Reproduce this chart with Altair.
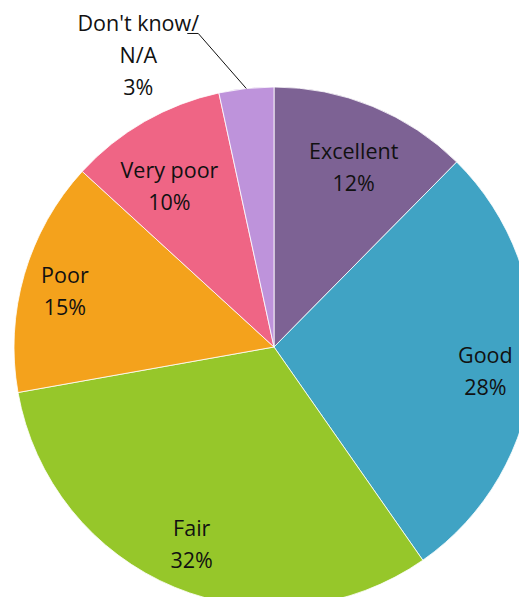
import math
import altair as alt
import pandas as pd

# ---- data ----
categories = ["Excellent", "Good", "Fair", "Poor", "Very poor", "Don't know/\nN/A"]
values = [12.4, 27.9, 31.9, 14.6, 9.8, 3.4]
pct_labels = ["12%", "28%", "32%", "15%", "10%", "3%"]

# ---- style / layout ----
colors = ["#7D6294", "#40A3C4", "#96C72A", "#F4A21C", "#EF6585", "#BE93DB"]
label_radius = [195, 213, 215, 216, 190, 0]
label_angle_shift_deg = [1.8, 2.2, 0.0, -1.7, -3.5, 0.0]
W, H = 511, 589
CX, CY, R = 266, 339, 260
FONT = "Open Sans"
FS = 21.5
LH = 32
TXT = "#111111"

n = len(categories)
total = sum(values)
df = pd.DataFrame({
    "category": categories,
    "value": values,
    "order": list(range(n)),
    "label": [f"{c}\n{p}" if i < n - 1 else "" for i, (c, p) in enumerate(zip(categories, pct_labels))],
    "label_r": label_radius,
    "shift": [d / 360 * total for d in label_angle_shift_deg],
})

order = alt.Order("order:Q", sort="ascending")

arcs = alt.Chart(df).mark_arc(outerRadius=R, stroke="white", strokeWidth=0.8).encode(
    theta=alt.Theta("value:Q", stack=True),
    order=order,
    color=alt.Color("category:N", scale=alt.Scale(domain=categories, range=colors), legend=None),
    x=alt.value(CX),
    y=alt.value(CY),
)

labels = alt.Chart(df).transform_window(
    cum="sum(value)", sort=[alt.SortField("order", order="ascending")], frame=[None, 0]
).transform_calculate(
    mid="datum.cum - datum.value / 2 + datum.shift"
).mark_text(
    font=FONT, fontSize=FS, lineBreak="\n", lineHeight=LH,
    align="center", baseline="middle", color=TXT, dy=-LH / 2,
).encode(
    theta=alt.Theta("mid:Q", stack=None, scale=alt.Scale(domain=[0, total], range=[0, 2 * math.pi])),
    radius=alt.Radius("label_r:Q", scale=None),
    text="label:N",
    x=alt.value(CX),
    y=alt.value(CY),
)

# leader line for the small last slice, anchored at the slice's mid-angle on the rim
mid_frac = (sum(values[:-1]) + values[-1] / 2) / total
ang = 2 * math.pi * mid_frac
ex = CX + R * math.sin(ang)
ey = CY - R * math.cos(ang)
elbow_x, elbow_y = ex - 48, ey - 55
end_x = elbow_x - 11

one = pd.DataFrame({"a": [0]})
leader1 = alt.Chart(one).mark_rule(color=TXT, strokeWidth=1).encode(
    x=alt.value(ex), y=alt.value(ey), x2=alt.value(elbow_x), y2=alt.value(elbow_y)
)
leader2 = alt.Chart(one).mark_rule(color=TXT, strokeWidth=1).encode(
    x=alt.value(elbow_x), y=alt.value(elbow_y), x2=alt.value(end_x), y2=alt.value(elbow_y)
)
outside = alt.Chart(one).mark_text(
    font=FONT, fontSize=FS, lineBreak="\n", lineHeight=LH,
    align="center", baseline="middle", color=TXT,
).encode(
    text=alt.value(f"{categories[-1]}\n{pct_labels[-1]}"),
    x=alt.value(elbow_x - 60),
    y=alt.value(elbow_y - 8),
)

chart = alt.layer(arcs, leader1, leader2, labels, outside).resolve_scale(
    theta="independent"
).properties(
    width=W, height=H, padding=0, autosize=alt.AutoSizeParams(type="none")
).configure_view(stroke=None)

chart.save("out.html", embed_options={"renderer": "svg", "actions": False})
